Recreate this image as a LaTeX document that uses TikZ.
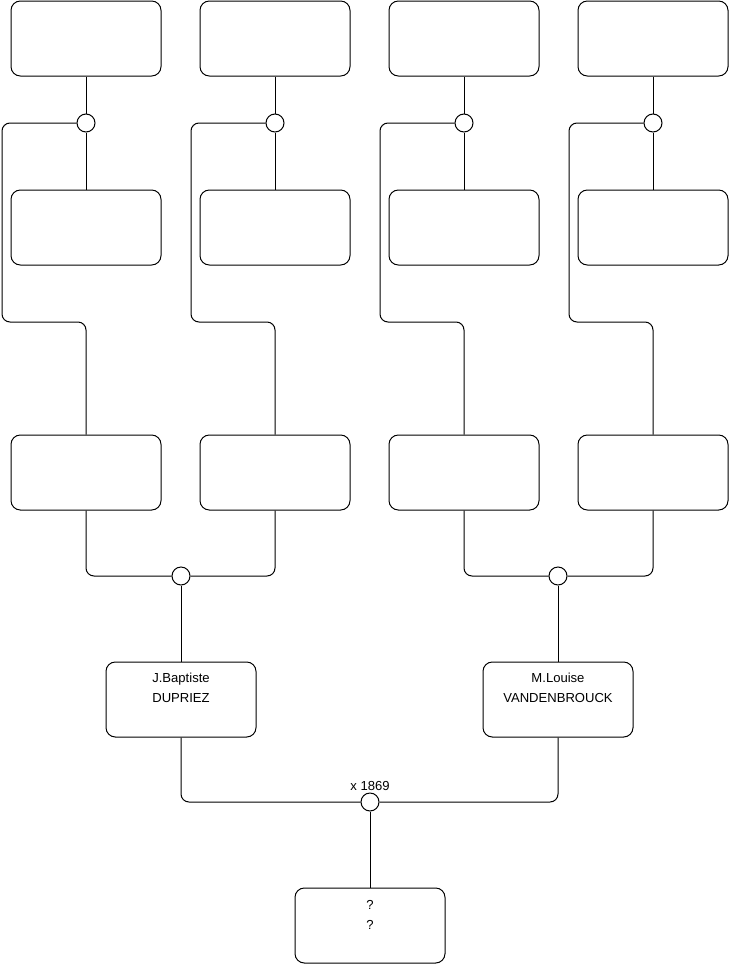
\documentclass[tikz,border=0pt]{standalone}
\usepackage{fontspec}
\setmainfont{Liberation Sans}
\usetikzlibrary{positioning}
\begin{document}
\begin{tikzpicture}[x=0.75pt, y=-0.75pt, line width=0.75pt,
    font=\fontsize{9.8}{15}\selectfont,
    box/.style={draw, rounded corners=7pt, minimum width=112.5pt,
      minimum height=56.25pt, inner sep=0pt},
    knot/.style={draw, circle, fill=white, minimum size=13.5pt, inner sep=0pt},
    names/.style={anchor=north, align=center, inner sep=0pt},
    link/.style={rounded corners=6pt}]
  \useasboundingbox (0,0) rectangle (740,975);
  % four top branches
  \foreach \i/\x in {1/86,2/275,3/464,4/653} {
    \node[box] (t\i) at (\x,38.5) {};
    \node[box] (m\i) at (\x,227.5) {};
    \node[box] (l\i) at (\x,472.5) {};
    \node[knot] (o\i) at (\x,123) {};
    \draw (t\i) -- (o\i) -- (m\i);
    \draw[link] (o\i.west) -| (\x-84,322) -| (l\i.north);
  }
  % parents
  \node[knot] (p1) at (181,576) {};
  \node[knot] (p2) at (558,576) {};
  \draw[link] (l1.south) |- (p1.west);
  \draw[link] (l2.south) |- (p1.east);
  \draw[link] (l3.south) |- (p2.west);
  \draw[link] (l4.south) |- (p2.east);
  \node[box] (jb) at (181,699.5) {};
  \node[box] (ml) at (558,699.5) {};
  \node[names] (jbtext) at ([yshift=-8.2pt]jb.north) {J.Baptiste\\DUPRIEZ};
  \node[names] (mltext) at ([yshift=-8.2pt]ml.north) {M.Louise\\VANDENBROUCK};
  \draw (p1) -- (jb);
  \draw (p2) -- (ml);
  % marriage
  \node[knot, label={[inner sep=1.2pt]above:x 1869}] (wed) at (370,802) {};
  \draw[link] (jb.south) |- (wed.west);
  \draw[link] (ml.south) |- (wed.east);
  \node[box] (kid) at (370,925.5) {};
  \node[names] (kidtext) at ([yshift=-9.5pt]kid.north) {?\\?};
  \draw (wed) -- (kid);
\end{tikzpicture}
\end{document}
